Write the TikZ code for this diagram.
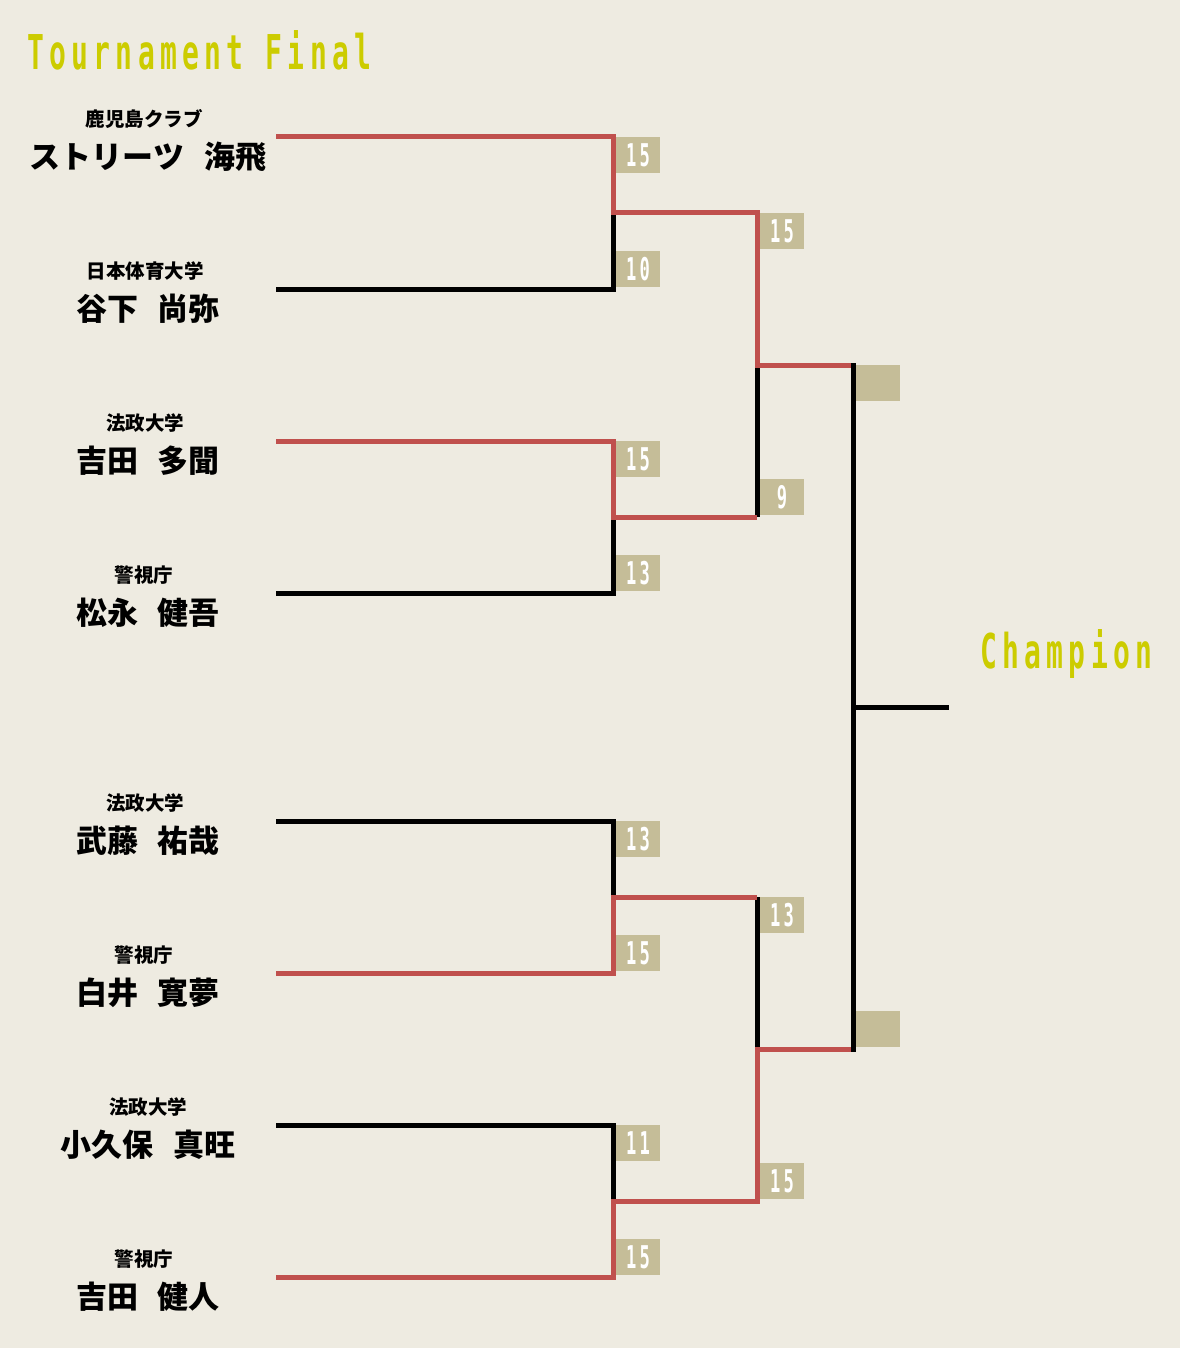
\documentclass[tikz,border=0pt]{standalone}
\usepackage{fontspec}
\newfontfamily\jp{Noto Sans CJK JP}
\newfontfamily\condsp{DejaVu Sans Mono}[LetterSpace=19]
\definecolor{bg}{HTML}{EEEBE1}
\definecolor{win}{HTML}{C0504D}
\definecolor{scorebg}{HTML}{C5BD98}
\definecolor{ttl}{HTML}{CCCC00}
\tikzset{
  club/.style={inner sep=0, font=\jp\bfseries\fontsize{19.5}{19.5}\selectfont},
  pname/.style={inner sep=0, font=\jp\bfseries\fontsize{31}{31}\selectfont},
  score/.style={fill=scorebg, minimum width=44pt, minimum height=36pt, inner sep=0, text=white},
  bk/.style={line width=5pt, black, line join=miter},
  rd/.style={line width=5pt, win, line join=miter},
  bigtxt/.style={inner sep=0, anchor=base west, text=ttl},
}
\newcommand{\scoretxt}[1]{\scalebox{0.9}[1.65]{\condsp\bfseries\fontsize{19}{19}\selectfont #1}}
\newcommand{\bigcond}[1]{\scalebox{0.8}[1.37]{\condsp\bfseries\fontsize{35}{35}\selectfont #1}}
\begin{document}
\begin{tikzpicture}[x=1pt,y=-1pt]
\fill[bg] (0,0) rectangle (1180,1348);
\useasboundingbox (0,0) rectangle (1180,1348);

\node[bigtxt] (title) at (27,70) {\bigcond{Tournament Final}};
\node[bigtxt] (champ) at (980,668) {\bigcond{Champion}};

% players
\node[club] (c1) at (144,119) {鹿児島クラブ};
\node[pname] (n1) at (148,157) {ストリーツ\hspace{20pt}海飛};
\node[club] (c2) at (145,271) {日本体育大学};
\node[pname] (n2) at (148,309) {谷下\hspace{20pt}尚弥};
\node[club] (c3) at (145,423) {法政大学};
\node[pname] (n3) at (148,461) {吉田\hspace{20pt}多聞};
\node[club] (c4) at (144,575) {警視庁};
\node[pname] (n4) at (148,613) {松永\hspace{20pt}健吾};
\node[club] (c5) at (145,803) {法政大学};
\node[pname] (n5) at (148,841) {武藤\hspace{20pt}祐哉};
\node[club] (c6) at (144,955) {警視庁};
\node[pname] (n6) at (148,993) {白井\hspace{20pt}寛夢};
\node[club] (c7) at (148,1107) {法政大学};
\node[pname] (n7) at (148,1145) {小久保\hspace{20pt}真旺};
\node[club] (c8) at (144,1259) {警視庁};
\node[pname] (n8) at (148,1297) {吉田\hspace{20pt}健人};

% line start points
\coordinate (s1) at (276,137);
\coordinate (s2) at (276,289);
\coordinate (s3) at (276,441);
\coordinate (s4) at (276,593);
\coordinate (s5) at (276,821);
\coordinate (s6) at (276,973);
\coordinate (s7) at (276,1125);
\coordinate (s8) at (276,1277);
% junctions
\coordinate (j1) at (613,213);
\coordinate (j2) at (613,517);
\coordinate (j3) at (613,897);
\coordinate (j4) at (613,1201);
\coordinate (k1) at (757,365);
\coordinate (k2) at (757,1049);
\coordinate (f1) at (853,365);
\coordinate (f2) at (853,1049);
\coordinate (fm) at (853,707);
\coordinate (fe) at (949,707);

% losers (black)
\draw[bk] (s2) -| (j1);
\draw[bk] (s4) -| (j2);
\draw[bk] (s5) -| (j3);
\draw[bk] (s7) -| (j4);
\draw[bk] (j2 -| k1) -- (k1);
\draw[bk] (j3 -| k2) -- (k2);
% winners (red)
\draw[rd] (s1) -| (j1) -- (j1 -| k1) -- (k1) -- (f1);
\draw[rd] (s3) -| (j2) -- (j2 -| k1);
\draw[rd] (s6) -| (j3) -- (j3 -| k2);
\draw[rd] (s8) -| (j4) -- (j4 -| k2) -- (k2) -- (f2);
% final
\draw[bk, line cap=rect] (f1) -- (f2);
\draw[bk] (fm) -- (fe);

% scores
\node[score] (r11) at (638,155) {\scoretxt{15}};
\node[score] (r12) at (638,269) {\scoretxt{10}};
\node[score] (r13) at (638,459) {\scoretxt{15}};
\node[score] (r14) at (638,573) {\scoretxt{13}};
\node[score] (r15) at (638,839) {\scoretxt{13}};
\node[score] (r16) at (638,953) {\scoretxt{15}};
\node[score] (r17) at (638,1143) {\scoretxt{11}};
\node[score] (r18) at (638,1257) {\scoretxt{15}};
\node[score] (r21) at (782,231) {\scoretxt{15}};
\node[score] (r22) at (782,497) {\scoretxt{9}};
\node[score] (r23) at (782,915) {\scoretxt{13}};
\node[score] (r24) at (782,1181) {\scoretxt{15}};
\node[score] (r31) at (878,383) {};
\node[score] (r32) at (878,1029) {};
\end{tikzpicture}
\end{document}
